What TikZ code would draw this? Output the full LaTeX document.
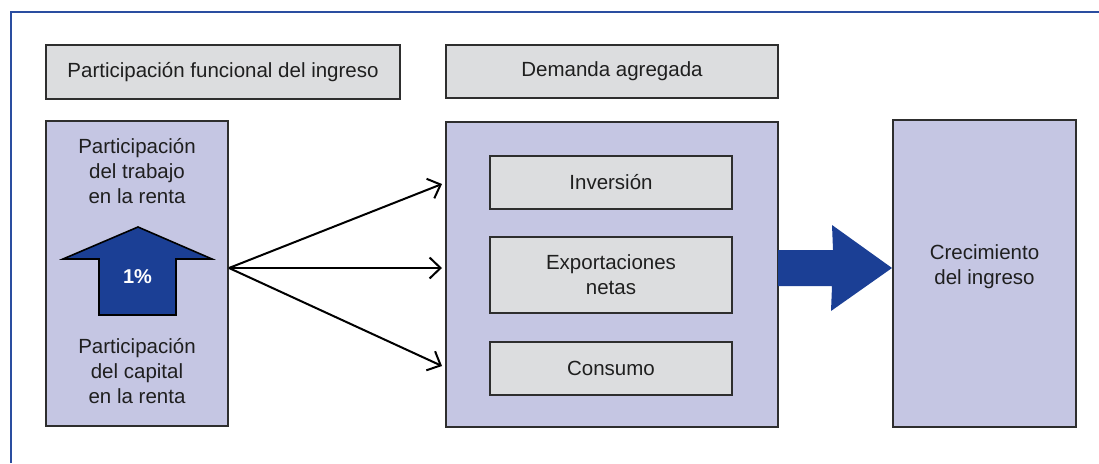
\documentclass[tikz,border=0pt]{standalone}
\usepackage{fontspec}
\setmainfont{Liberation Sans}
\usetikzlibrary{arrows.meta}
\definecolor{lav}{HTML}{C5C6E3}
\definecolor{lgray}{HTML}{DCDDDF}
\definecolor{dblue}{HTML}{1B3F95}
\definecolor{fblue}{HTML}{2A4DA0}
\definecolor{edge}{HTML}{2E2E2E}
\begin{document}
\begin{tikzpicture}[x=1pt,y=-1pt,
  txt/.style={font=\fontsize{20.5}{25}\selectfont, text=black!88, align=center},
  graybox/.style={draw=edge, line width=1.6pt, fill=lgray, txt, inner sep=0pt},
  lavbox/.style={draw=edge, line width=1.6pt, fill=lav, inner sep=0pt},
  conn/.style={draw=black, line width=2pt, -{Straight Barb[length=11pt,width=21pt,line width=2pt]}},
  bigarrow/.style={fill=dblue}
]
\useasboundingbox (0,0) rectangle (1099,463);
% frame
\draw[fblue, line width=2.4pt] (11,463) -- (11,12) -- (1099,12);

% header boxes
\node[graybox, minimum width=354pt, minimum height=54pt] (pfi) at (223,72) {Participación funcional del ingreso};
\node[graybox, minimum width=332pt, minimum height=53pt] (dag) at (612,71.5) {Demanda agregada};

% left box
\node[lavbox, minimum width=182pt, minimum height=305pt] (left) at (137,273.5) {};
\node[txt] (trab) at (137,171) {Participación\\del trabajo\\en la renta};
\node[txt] (cap) at (137,371) {Participación\\del capital\\en la renta};
\draw[fill=dblue, draw=black, line width=1.6pt, line join=miter]
  (99,315) -- (99,259) -- (63,259) -- (138,227) -- (212,259) -- (176,259) -- (176,315) -- cycle;
\node[font=\fontsize{20}{22}\selectfont\bfseries, text=white] (pct) at (137.5,277) {1\%};

% middle box
\node[lavbox, minimum width=332pt, minimum height=305pt] (mid) at (612,274.5) {};
\node[graybox, minimum width=242pt, minimum height=53pt] (inv) at (611,182.5) {Inversión};
\node[graybox, minimum width=242pt, minimum height=76pt] (exp) at (611,275) {Exportaciones\\netas};
\node[graybox, minimum width=242pt, minimum height=53pt] (con) at (611,368.5) {Consumo};

% right box
\node[lavbox, minimum width=183pt, minimum height=307pt] (right) at (984.5,273.5) {};
\node[txt] (crec) at (984.5,267) {Crecimiento\\del ingreso};

% connectors
\coordinate (src) at (229,268);
\coordinate (t1) at (442,184);
\coordinate (t2) at (442,268);
\coordinate (t3) at (442,366);
\draw[conn] (src) -- (t1);
\draw[conn] (src) -- (t2);
\draw[conn] (src) -- (t3);

% big right arrow
\path[bigarrow] (778,250) -- (833,250) -- (832,225) -- (892,268) -- (831,311) -- (832,286) -- (778,286) -- cycle;
\end{tikzpicture}
\end{document}
